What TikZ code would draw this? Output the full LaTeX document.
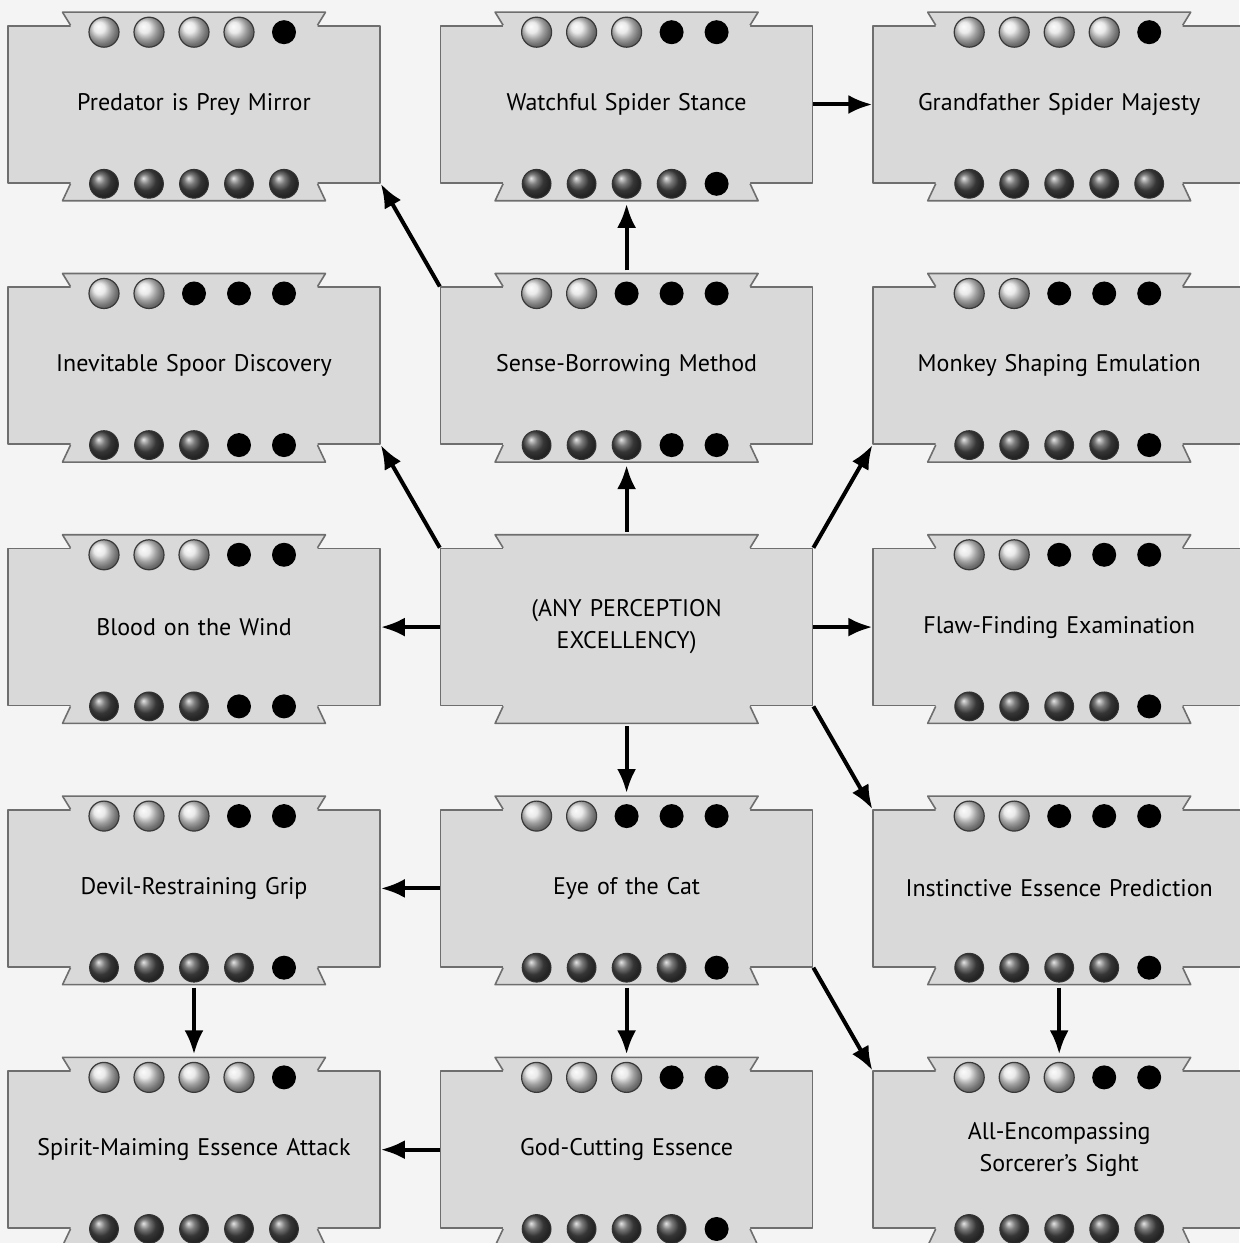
\documentclass[tikz,border=0pt]{standalone}
\usepackage{fontspec}
\setmainfont{PT Sans}
\usepackage{tikz}
\usetikzlibrary{arrows.meta,positioning}
\definecolor{pagebg}{HTML}{F4F4F4}
\definecolor{boxgray}{HTML}{D9D9D9}
\definecolor{edgegray}{HTML}{6E6E6E}

\tikzset{
  rim/.style={draw=edgegray,line width=0.8pt,line join=round},
  lightdot/.style={shade,ball color=gray!22,draw=gray!45!black,line width=0.6pt},
  darkdot/.style={shade,ball color=gray!60!black,draw=black!80,line width=0.5pt},
  blackdot/.style={fill=black}
}

% tabs above and below a charm box
\newcommand{\charmtabs}[1]{%
  \fill[boxgray] ([xshift=-61.75pt,yshift=-1pt]#1.north) -- ++(0,1pt) -- ++(-4pt,6.5pt) -- ++(131.5pt,0) -- ++(-4pt,-6.5pt) -- ++(0,-1pt) -- cycle;
  \draw[rim] ([xshift=-61.75pt]#1.north) -- ++(-4pt,6.5pt) -- ++(131.5pt,0) -- ++(-4pt,-6.5pt);
  \fill[boxgray] ([xshift=-61.75pt,yshift=1pt]#1.south) -- ++(0,-1pt) -- ++(-4pt,-8.5pt) -- ++(131.5pt,0) -- ++(-4pt,8.5pt) -- ++(0,1pt) -- cycle;
  \draw[rim] ([xshift=-61.75pt]#1.south) -- ++(-4pt,-8.5pt) -- ++(131.5pt,0) -- ++(-4pt,8.5pt);
}
% #2 light dots on top, #3 dark dots below, black for the rest
\newcommand{\charmdots}[3]{%
  \foreach \i in {1,...,5}{
    \ifnum\i>#2\relax
      \fill[blackdot] ([xshift={(\i-3)*22.5pt},yshift=-3.5pt]#1.north) circle (6pt);
    \else
      \path[lightdot] ([xshift={(\i-3)*22.5pt},yshift=-3.5pt]#1.north) circle (7.5pt);
    \fi
    \ifnum\i>#3\relax
      \fill[blackdot] ([xshift={(\i-3)*22.5pt}]#1.south) circle (6pt);
    \else
      \path[darkdot] ([xshift={(\i-3)*22.5pt}]#1.south) circle (7.2pt);
    \fi
  }%
}

\begin{document}
\begin{tikzpicture}[
  x=0.5pt,y=0.5pt,
  node distance=51.35pt and 29.5pt,
  charm/.style={rim,fill=boxgray,minimum width=186pt,minimum height=78.5pt,inner sep=0pt,
    text width=180pt,align=center,font=\fontsize{12}{16}\selectfont},
  arr/.style={-{Latex[length=12pt,width=9.5pt]},line width=2pt,draw=black},
  uplink/.style={shorten <=8pt,shorten >=10pt},
  downlink/.style={shorten <=10pt,shorten >=8pt}
]
\useasboundingbox (0,0) rectangle (1239,1243);
\fill[pagebg] (0,0) rectangle (1239,1243);

\node[charm] (pred) at (194,1138.5) {Predator is Prey Mirror};
\node[charm,right=of pred] (watch) {Watchful Spider Stance};
\node[charm,right=of watch] (grand) {Grandfather Spider Majesty};
\node[charm,below=of pred] (spoor) {Inevitable Spoor Discovery};
\node[charm,right=of spoor] (sense) {Sense-Borrowing Method};
\node[charm,right=of sense] (monkey) {Monkey Shaping Emulation};
\node[charm,below=of spoor] (blood) {Blood on the Wind};
\node[charm,right=of blood] (any) {(ANY PERCEPTION\\EXCELLENCY)};
\node[charm,right=of any] (flaw) {Flaw-Finding Examination};
\node[charm,below=of blood] (devil) {Devil-Restraining Grip};
\node[charm,right=of devil] (cat) {Eye of the Cat};
\node[charm,right=of cat] (instinct) {Instinctive Essence Prediction};
\node[charm,below=of devil] (spirit) {Spirit-Maiming Essence Attack};
\node[charm,right=of spirit] (godcut) {God-Cutting Essence};
\node[charm,right=of godcut] (allsight) {All-Encompassing\\Sorcerer's Sight};

\foreach \n in {pred,watch,grand,spoor,sense,monkey,blood,any,flaw,devil,cat,instinct,spirit,godcut,allsight}
  {\charmtabs{\n}}
\foreach \n/\t/\b in {pred/4/5,watch/3/4,grand/4/5,spoor/2/3,sense/2/3,monkey/2/4,blood/3/3,flaw/2/4,
  devil/3/4,cat/2/4,instinct/2/4,spirit/4/5,godcut/3/4,allsight/3/5}
  {\charmdots{\n}{\t}{\b}}

\draw[arr] (watch) -- (grand);
\draw[arr] (sense.north west) -- (pred.south east);
\draw[arr,uplink] (sense) -- (watch);
\draw[arr] (any.north west) -- (spoor.south east);
\draw[arr,uplink] (any) -- (sense);
\draw[arr] (any.north east) -- (monkey.south west);
\draw[arr] (any) -- (blood);
\draw[arr] (any) -- (flaw);
\draw[arr,downlink] (any) -- (cat);
\draw[arr] (any.south east) -- (instinct.north west);
\draw[arr] (cat) -- (devil);
\draw[arr,downlink] (cat) -- (godcut);
\draw[arr] (cat.south east) -- (allsight.north west);
\draw[arr,downlink] (devil) -- (spirit);
\draw[arr] (godcut) -- (spirit);
\draw[arr,downlink] (instinct) -- (allsight);
\end{tikzpicture}
\end{document}
